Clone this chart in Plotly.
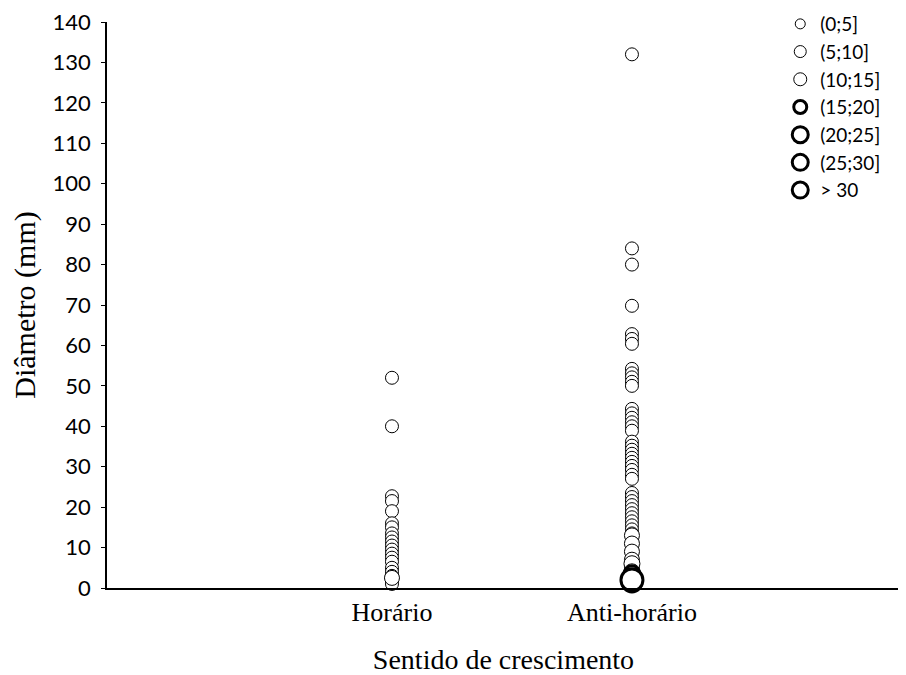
import plotly.graph_objects as go

# ---- data -------------------------------------------------------------
categories = ["Horário", "Anti-horário"]
bin_labels = ["(0;5]", "(5;10]", "(10;15]", "(15;20]", "(20;25]", "(25;30]", "> 30"]

# Diâmetro (mm) per frequency class, clockwise (Horário)
hor_0_5 = [52, 40, 22.7, 21.5, 19, 16, 15, 13.5, 12.5, 11.5, 10.5, 9.5,
           8.5, 7.5, 6.5, 5, 4, 3, 2, 1]
hor_5_10 = [2.5]

# Diâmetro (mm) per frequency class, counter-clockwise (Anti-horário)
anti_0_5 = [132, 84, 80, 69.8, 62.8, 61.6, 60.4, 54.2, 53.1, 52.1, 51, 50,
            44.3, 43.2, 42.1, 41, 40, 38.9, 36.2, 35.2, 34.2, 33.2, 32.2,
            31.2, 30.2, 29.2, 28, 27, 23.5, 22.5, 21.5, 20.5, 19.5, 18.5,
            17.5, 16.5, 15.5, 14.5, 13.5, 12.5, 11.5, 10.5, 9.5, 8.5, 7.5,
            6.5, 5.5]
anti_5_10 = [13, 11, 9, 7, 5]
anti_10_15 = [6, 4]
anti_15_20 = [3.5]
anti_20_25 = [2.5]
anti_25_30 = [1.5]
anti_gt_30 = [2]

y_ticks = list(range(0, 141, 10))

# ---- styles per class ---------------------------------------------------
data_sizes = [13, 15, 16, 16, 18, 20, 22]
legend_sizes = [10, 12, 13, 13, 16, 16, 16]
line_widths = [1, 1, 1, 3, 3, 3, 3]

series = [
    (hor_0_5, anti_0_5),
    (hor_5_10, anti_5_10),
    ([], anti_10_15),
    ([], anti_15_20),
    ([], anti_20_25),
    ([], anti_25_30),
    ([], anti_gt_30),
]

fig = go.Figure()

for i, (h, a) in enumerate(series):
    xs = [categories[0]] * len(h) + [categories[1]] * len(a)
    ys = list(h) + list(a)
    fig.add_trace(go.Scatter(
        x=xs, y=ys, mode="markers", showlegend=False,
        cliponaxis=False,
        marker=dict(symbol="circle", size=data_sizes[i], color="white",
                    line=dict(color="black", width=line_widths[i])),
        hoverinfo="x+y",
    ))

# legend-only entries
for i, lab in enumerate(bin_labels):
    fig.add_trace(go.Scatter(
        x=[None], y=[None], mode="markers", name=lab, showlegend=True,
        marker=dict(symbol="circle", size=legend_sizes[i], color="white",
                    line=dict(color="black", width=line_widths[i])),
    ))

serif = "Liberation Serif, Times New Roman, serif"
sans = "Lato, Carlito, Calibri, sans-serif"

# page body has an 8px margin, so the figure is 8px smaller than the window
fig.update_layout(
    width=898, height=667,
    paper_bgcolor="white", plot_bgcolor="white",
    margin=dict(l=99, r=6, t=14, b=87, autoexpand=False),
    showlegend=True,
    legend=dict(x=0.849, y=1.03, xanchor="left", yanchor="top",
                bgcolor="rgba(0,0,0,0)", font=dict(family=sans, size=19, color="black"),
                itemsizing="trace", tracegroupgap=0),
    xaxis=dict(
        type="category", categoryorder="array", categoryarray=categories,
        range=[-1.1875, 2.117],
        showline=True, linecolor="black", linewidth=1.5,
        showgrid=False, zeroline=False, ticks="",
        tickfont=dict(family=serif, size=26, color="black"),
        title=dict(text="Sentido de crescimento", font=dict(family=serif, size=28, color="black"),
                   standoff=24),
    ),
    yaxis=dict(
        range=[0, 140], tickvals=y_ticks,
        showline=True, linecolor="black", linewidth=1.5,
        showgrid=False, zeroline=False,
        ticks="outside", ticklen=4, tickwidth=1.2, tickcolor="black",
        ticklabelstandoff=6, ticklabeloverflow="allow",
        tickfont=dict(family=sans, size=22, color="black"),
        title=dict(text="Diâmetro (mm)", font=dict(family=serif, size=30, color="black"),
                   standoff=16),
    ),
)

fig.write_html("out.html")
